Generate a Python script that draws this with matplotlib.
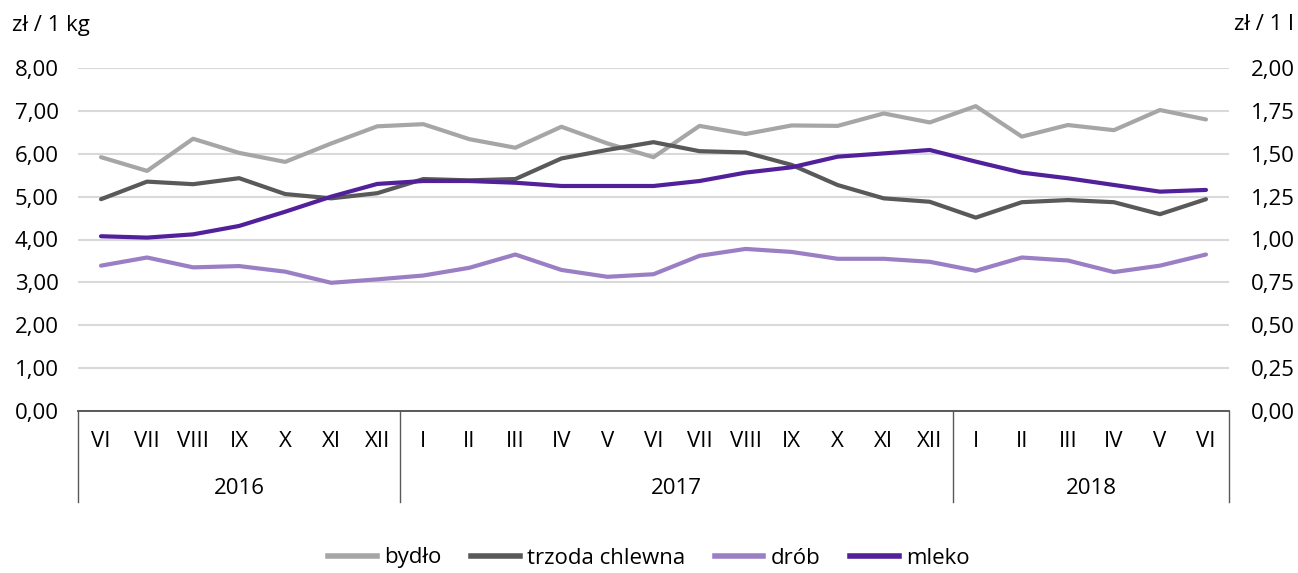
import matplotlib
matplotlib.use("Agg")
import matplotlib.pyplot as plt
import matplotlib.transforms as mtransforms
from matplotlib.lines import Line2D

plt.rcParams['font.family'] = ['Open Sans', 'DejaVu Sans']

# months VI 2016 .. VI 2018
months = ['VI', 'VII', 'VIII', 'IX', 'X', 'XI', 'XII',
          'I', 'II', 'III', 'IV', 'V', 'VI', 'VII', 'VIII', 'IX', 'X', 'XI', 'XII',
          'I', 'II', 'III', 'IV', 'V', 'VI']
years = ['2016', '2017', '2018']
year_counts = [7, 12, 6]

# zł / 1 kg (left axis)
bydlo = [5.92, 5.60, 6.35, 6.02, 5.81, 6.24, 6.64, 6.69, 6.34, 6.14, 6.63, 6.24, 5.92,
         6.65, 6.46, 6.66, 6.65, 6.94, 6.73, 7.11, 6.40, 6.67, 6.55, 7.02, 6.80]
trzoda = [4.94, 5.35, 5.29, 5.43, 5.06, 4.96, 5.08, 5.41, 5.38, 5.41, 5.89, 6.09, 6.27,
          6.06, 6.03, 5.74, 5.27, 4.96, 4.88, 4.51, 4.87, 4.92, 4.87, 4.59, 4.94]
drob = [3.39, 3.58, 3.35, 3.38, 3.25, 2.99, 3.07, 3.16, 3.34, 3.65, 3.29, 3.13, 3.19,
        3.62, 3.78, 3.71, 3.55, 3.55, 3.48, 3.27, 3.58, 3.51, 3.24, 3.39, 3.65]
# zł / 1 l (right axis)
mleko = [1.019, 1.011, 1.030, 1.079, 1.162, 1.250, 1.324, 1.341, 1.341, 1.331, 1.312,
         1.312, 1.312, 1.341, 1.390, 1.421, 1.483, 1.502, 1.522, 1.454, 1.390, 1.357,
         1.318, 1.279, 1.289]

c_bydlo = '#A6A6A6'
c_trzoda = '#595959'
c_drob = '#9B7FC4'
c_mleko = '#51209A'
fs = 16

fig = plt.figure(figsize=(12.98, 5.73), dpi=100)
ax = fig.add_axes([78 / 1298, 1 - 411 / 573, (1229 - 78) / 1298, (411 - 68) / 573])
ax2 = ax.twinx()

x = list(range(len(months)))
ax.plot(x, bydlo, color=c_bydlo, lw=3, solid_capstyle='round', zorder=3)
ax.plot(x, trzoda, color=c_trzoda, lw=3, solid_capstyle='round', zorder=3)
ax.plot(x, drob, color=c_drob, lw=3, solid_capstyle='round', zorder=3)
ax2.plot(x, mleko, color=c_mleko, lw=3, solid_capstyle='round', zorder=3)

ax.set_xlim(-0.5, len(months) - 0.5)
ax.set_ylim(0, 8)
ax2.set_ylim(0, 2)
ax.set_yticks([i for i in range(9)])
ax.set_yticklabels([f'{i:.2f}'.replace('.', ',') for i in range(9)], fontsize=fs)
r_ticks = [i * 0.25 for i in range(9)]
ax2.set_yticks(r_ticks)
ax2.set_yticklabels([f'{v:.2f}'.replace('.', ',') for v in r_ticks], fontsize=fs)
ax.grid(axis='y', color='#D9D9D9', lw=1.5, zorder=0)
ax.set_axisbelow(True)
ax.tick_params(axis='y', length=0, pad=14)
ax2.tick_params(axis='y', length=0, pad=16)
ax.set_xticks([])
for a in (ax, ax2):
    for s in ('top', 'left', 'right'):
        a.spines[s].set_visible(False)
    a.spines['bottom'].set_color('#595959')
    a.spines['bottom'].set_linewidth(1.2)

# two-level category axis
trans = mtransforms.blended_transform_factory(ax.transData, ax.transAxes)
for i, m in enumerate(months):
    ax.text(i, -0.09, m, transform=trans, ha='center', va='center', fontsize=fs)
bounds = [-0.5]
for n in year_counts:
    bounds.append(bounds[-1] + n)
for b in bounds:
    ax.plot([b, b], [0, -0.265], transform=trans, color='#595959', lw=1, clip_on=False)
for k, yr in enumerate(years):
    ax.text((bounds[k] + bounds[k + 1]) / 2, -0.225, yr, transform=trans,
            ha='center', va='center', fontsize=fs)

fig.text(12 / 1298, 1 - 25 / 573, 'zł / 1 kg', ha='left', va='center', fontsize=fs)
fig.text(1294 / 1298, 1 - 25 / 573, 'zł / 1 l', ha='right', va='center', fontsize=fs)

handles = [Line2D([], [], color=c, lw=4) for c in (c_bydlo, c_trzoda, c_drob, c_mleko)]
fig.legend(handles, ['bydło', 'trzoda chlewna', 'drób', 'mleko'], loc='center',
           bbox_to_anchor=(0.5, 1 - 558 / 573), ncol=4, frameon=False, fontsize=fs,
           handlelength=2.2, handletextpad=0.35, columnspacing=1.3)

fig.savefig('out.png', dpi=100)
